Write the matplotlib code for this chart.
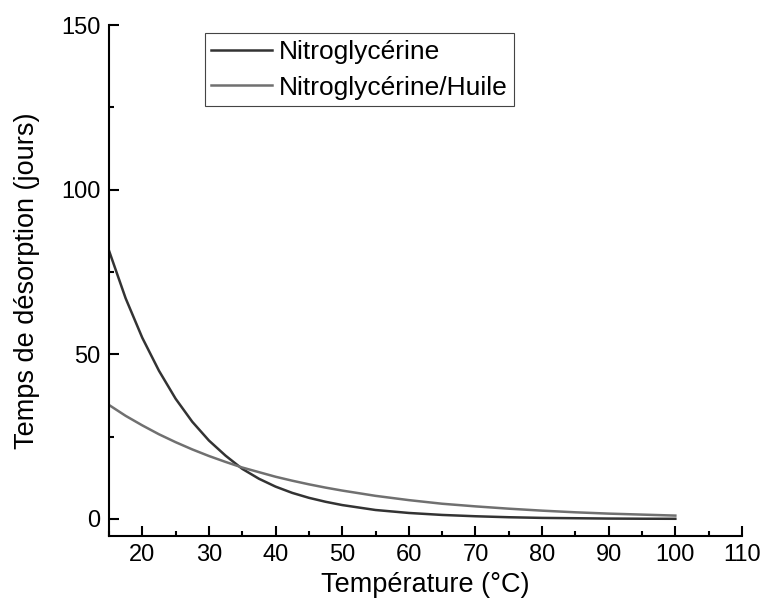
import matplotlib.pyplot as plt
from matplotlib.ticker import MultipleLocator

plt.rcParams['font.family'] = ['Liberation Sans', 'DejaVu Sans']

# temperature (°C) and desorption time (days)
temps = [15, 17.5, 20, 22.5, 25, 27.5, 30, 32.5, 35, 37.5, 40, 42.5, 45, 47.5, 50,
         55, 60, 65, 70, 75, 80, 85, 90, 95, 100]
nitro = [81.5, 67.0, 55.0, 45.0, 36.5, 29.5, 23.8, 19.2, 15.2, 12.2, 9.8, 7.9, 6.4, 5.2, 4.2,
         2.7, 1.8, 1.2, 0.8, 0.5, 0.3, 0.2, 0.1, 0.05, 0.03]
nitro_huile = [34.6, 31.3, 28.4, 25.7, 23.3, 21.1, 19.1, 17.3, 15.6, 14.2, 12.8, 11.6, 10.5, 9.5, 8.6,
               7.0, 5.7, 4.6, 3.8, 3.1, 2.5, 2.0, 1.6, 1.3, 1.0]
labels = ['Nitroglycérine', 'Nitroglycérine/Huile']

fig = plt.figure(figsize=(7.61, 6.10), dpi=100)
ax = fig.add_axes([0.1432, 0.1213, 0.8318, 0.8377])

ax.plot(temps, nitro, color='#333333', lw=1.8, label=labels[0])
ax.plot(temps, nitro_huile, color='#707070', lw=1.8, label=labels[1])

ax.set_xlim(15, 110)
ax.set_ylim(-5.2, 150)
ax.xaxis.set_minor_locator(MultipleLocator(5))
ax.set_xticks(range(20, 111, 10))
ax.yaxis.set_major_locator(MultipleLocator(50))
ax.yaxis.set_minor_locator(MultipleLocator(25))

for s in ('top', 'right'):
    ax.spines[s].set_visible(False)
for s in ('left', 'bottom'):
    ax.spines[s].set_linewidth(1.5)

ax.tick_params(which='major', direction='in', length=7, width=1.5, labelsize=17, pad=6)
ax.tick_params(which='minor', direction='in', length=3.6, width=1.5)

ax.set_xlabel('Température (°C)', fontsize=19.5, labelpad=4)
ax.set_ylabel('Temps de désorption (jours)', fontsize=19.5, labelpad=15)

leg = ax.legend(loc='upper left', bbox_to_anchor=(0.151, 0.984), fontsize=19,
                handlelength=2.3, handletextpad=0.25, borderpad=0.25,
                labelspacing=0.45, borderaxespad=0, fancybox=False, framealpha=1)
leg.get_frame().set_edgecolor('#444444')
leg.get_frame().set_linewidth(0.8)

fig.savefig('out.png', dpi=100)
